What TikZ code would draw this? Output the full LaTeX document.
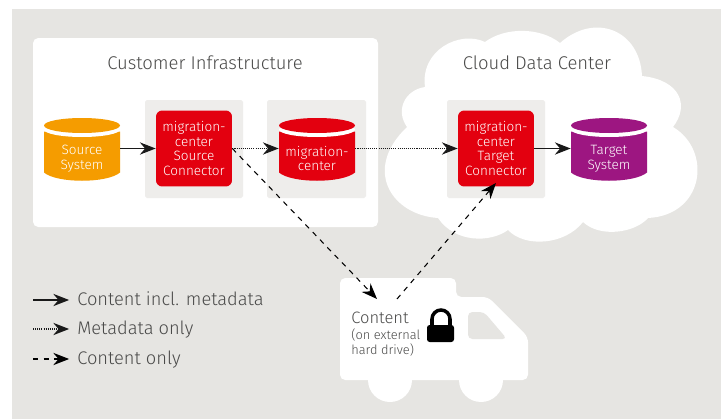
\documentclass[tikz,border=0pt]{standalone}
\usepackage{fontspec}
\setmainfont{Fira Sans Light}
\usetikzlibrary{arrows.meta}
\usetikzlibrary{calc}

\definecolor{pagegrey}{HTML}{E6E5E2}
\definecolor{subgrey}{HTML}{EEEDEB}
\definecolor{mcred}{HTML}{E3000F}
\definecolor{srcorange}{HTML}{F59C00}
\definecolor{tgtpurple}{HTML}{9D1681}
\definecolor{inkgrey}{HTML}{4A4A49}

\tikzset{
  tip/.style={-{Stealth[length=9pt, width=7pt, inset=3pt]}},
  contentline/.style={tip, line width=0.7pt, black!90},
  metaline/.style={tip, line width=0.7pt, black!90, dash pattern=on 0.6pt off 0.6pt},
  dashline/.style={tip, line width=0.6pt, black, dash pattern=on 3pt off 3pt},
  subbox/.style={fill=subgrey, rounded corners=1pt},
  connbox/.style={fill=mcred, rounded corners=3.5pt, minimum width=1.52cm, minimum height=1.52cm, inner sep=0pt, text=white, align=center, font=\fontsize{7.7}{8.3}\selectfont},
  drumnode/.style={minimum width=1.52cm, minimum height=1.26cm, inner sep=0pt},
  drumtext/.style={inner sep=0pt, text=white, align=center, font=\fontsize{7.7}{8.5}\selectfont},
  titletext/.style={inner sep=0pt, text=inkgrey, font=\fontsize{10.5}{12}\selectfont},
  legendtext/.style={inner sep=0pt, anchor=west, text height=8pt, text depth=2pt, text=inkgrey, font=\fontsize{10.4}{12}\selectfont}
}

\newcommand{\drumfill}[2]{
  \begin{scope}[shift={(#1)}]
    \fill[#2] (-38,-17) -- (-38,24) .. controls (-25,35) and (25,35) .. (38,24) -- (38,-17) -- cycle;
    \fill[white] (0,-19) ellipse [x radius=38, y radius=7.5];
    \fill[#2] (0,-23) ellipse [x radius=38, y radius=7.5];
  \end{scope}
}

\begin{document}
\begin{tikzpicture}[x=0.02cm, y=-0.02cm]
  \useasboundingbox (0,0) rectangle (721,419);
  \fill[pagegrey] (12,9) rectangle (721,419);

  \fill[white, rounded corners=3pt] (33,38) rectangle (378,227);

  \fill[white] (438,218)
    .. controls (392,215) and (362,170) .. (407,127)
    .. controls (395,110) and (405,90) .. (425,87)
    .. controls (420,50) and (460,30) .. (485,42)
    .. controls (505,27) and (540,27) .. (560,43)
    .. controls (595,12) and (640,30) .. (642,76)
    .. controls (680,80) and (690,105) .. (673,127)
    .. controls (712,150) and (705,215) .. (648,218)
    .. controls (635,233) and (600,238) .. (583,222)
    .. controls (565,245) and (525,248) .. (508,230)
    .. controls (490,243) and (455,243) .. (438,218) -- cycle;

  \fill[subbox] (145,100) rectangle (243,198);
  \fill[subbox] (267,100) rectangle (366,198);
  \fill[subbox] (447,100) rectangle (545,198);

  \node[titletext] (custtitle) at (205,63) {Customer Infrastructure};
  \node[titletext] (cloudtitle) at (537,63) {Cloud Data Center};

  \node[drumnode] (srcsys) at (82,148.5) {};
  \drumfill{srcsys}{srcorange}
  \node[drumtext] (srcsyslabel) at (82,158.5) {Source\\System};

  \node[connbox] (srcconn) at (194,148.5) {migration-\\center\\Source\\Connector};

  \node[drumnode] (mcdrum) at (317,148.5) {};
  \drumfill{mcdrum}{mcred}
  \node[drumtext] (mcdrumlabel) at (317,158.5) {migration-\\center};

  \node[connbox] (tgtconn) at (496,148.5) {migration-\\center\\Target\\Connector};

  \node[drumnode] (tgtsys) at (609,148.5) {};
  \drumfill{tgtsys}{tgtpurple}
  \node[drumtext] (tgtsyslabel) at (609,158.5) {Target\\System};

  \fill[white, rounded corners=3pt] (340,380) -- (340,278) -- (456,278) -- (456,297) -- (488,297) -- (528,337) -- (528,380) -- cycle;
  \fill[white] (390,380) circle [radius=22];
  \fill[white] (481,380) circle [radius=22];
  \fill[pagegrey, rounded corners=2.5pt] (468,312) -- (484,312) -- (507,339) -- (468,339) -- cycle;

  \draw[line width=2pt, black] (432,327) -- (432,319) arc [start angle=180, end angle=360, radius=9] -- (450,327);
  \fill[black, rounded corners=1.5pt] (427,325) rectangle (454,342);

  \node[inner sep=0pt, anchor=west, text=inkgrey, font=\fontsize{9.4}{11}\selectfont] (truckhead) at (351,318) {Content};
  \node[inner sep=0pt, anchor=north west, text=inkgrey, align=left, font=\fontsize{7.3}{9}\selectfont] (truckinfo) at (351,328) {(on external\\hard drive)};

  \coordinate (truckin) at (377,299);
  \coordinate (truckout) at (397,299);
  \coordinate (tgtin) at (496,183);

  \path[contentline] (srcsys.east) edge (srcconn.west);
  \path[metaline] (srcconn.east) edge (mcdrum.west);
  \path[metaline] (mcdrum.east) edge (tgtconn.west);
  \path[contentline] (tgtconn.east) edge (tgtsys.west);
  \path[dashline] (srcconn.east) edge (truckin);
  \path[dashline] (truckout) edge (tgtin);

  \node[legendtext] (legcontent) at (77,300) {Content incl. metadata};
  \node[legendtext] (legmeta) at (77,329) {Metadata only};
  \node[legendtext] (legonly) at (77,359) {Content only};

  \coordinate (legstarta) at (33,300);
  \coordinate (legstartb) at (33,329);
  \coordinate (legstartc) at (33,359);

  \path[contentline, shorten >=4.5pt] (legstarta) edge (legcontent.west);
  \path[metaline, shorten >=4.5pt] (legstartb) edge (legmeta.west);
  \path[dashline, shorten >=4.5pt] (legstartc) edge (legonly.west);
\end{tikzpicture}
\end{document}
